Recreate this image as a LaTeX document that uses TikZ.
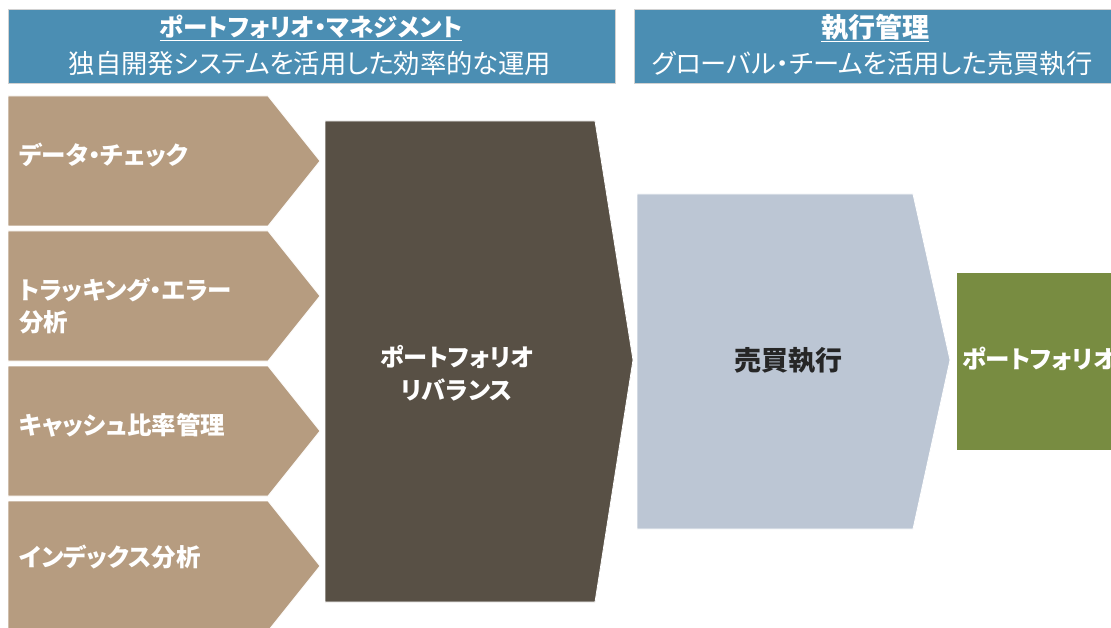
\documentclass[tikz,border=0pt]{standalone}
\usepackage{fontspec}
\setmainfont{Noto Sans CJK JP}[RawFeature=+palt]
\definecolor{hdr}{HTML}{4B8EB3}
\definecolor{tan}{HTML}{B69C80}
\definecolor{darkbox}{HTML}{585045}
\definecolor{lightbox}{HTML}{BCC6D4}
\definecolor{greenbox}{HTML}{788C41}
\tikzset{
  hdrbox/.style={fill=hdr, draw=black!18, line width=0.8pt},
  hdrtitle/.style={text=white, inner sep=0pt, font=\bfseries\fontsize{24.5}{24.5}\selectfont},
  hdrsub/.style={text=white, inner sep=0pt, font=\fontsize{26.3}{26.3}\selectfont},
  chev/.style={fill=tan, draw=white, line width=0.8pt},
  chevtext/.style={text=white, inner sep=0pt, anchor=west, align=left, font=\bfseries\fontsize{24.5}{32}\selectfont},
}
\newcommand{\chevshape}[1]{%
  \fill[chev] (8,#1) -- (268,#1) -- (320,#1+65) -- (268,#1+130) -- (8,#1+130) -- cycle;}
\begin{document}
\begin{tikzpicture}[x=1pt,y=-1pt]
\useasboundingbox (0,0) rectangle (1111,628);
\begin{scope}
\clip (0,0) rectangle (1111,628);
% headers
\path[hdrbox] (8,9) rectangle (615,83);
\path[hdrbox] (634,9) rectangle (1120,83);
\node[hdrtitle] (h1t) at (311,28) {\underline{ポートフォリオ・マネジメント}};
\node[hdrsub] (h1s) at (310,64) {独自開発システムを活用した効率的な運用};
\node[hdrtitle, font=\bfseries\fontsize{27}{27}\selectfont] (h2t) at (875,28) {\underline{執行管理}};
\node[hdrsub] (h2s) at (872,64) {グローバル・チームを活用した売買執行};
% left chevrons
\chevshape{96}
\chevshape{231}
\chevshape{366}
\chevshape{501}
\node[chevtext] (c1) at (19,155) {データ・チェック};
\node[chevtext] (c2) at (19,306) {トラッキング・エラー\\分析};
\node[chevtext] (c3) at (19,425) {キャッシュ比率管理};
\node[chevtext] (c4) at (19,557) {インデックス分析};
% dark pentagon
\fill[darkbox, draw=white, line width=0.8pt] (325,121) -- (595,121) -- (633,360) -- (595,602) -- (325,602) -- cycle;
\node[text=white, inner sep=0pt, align=center, font=\bfseries\fontsize{24.2}{33}\selectfont] (rebal) at (457,373) {ポートフォリオ\\リバランス};
% light pentagon
\fill[lightbox, draw=white, line width=0.8pt] (637,194) -- (913,194) -- (950,360) -- (913,529) -- (637,529) -- cycle;
\node[text=black!85, inner sep=0pt, font=\bfseries\fontsize{27}{27}\selectfont] (exec) at (788,361) {売買執行};
% green box
\fill[greenbox, draw=white, line width=0.8pt] (956,272) rectangle (1120,450);
\node[text=white, inner sep=0pt, anchor=west, font=\bfseries\fontsize{24.5}{24.5}\selectfont] (pf) at (962,359) {ポートフォリオ};
\end{scope}
\end{tikzpicture}
\end{document}
